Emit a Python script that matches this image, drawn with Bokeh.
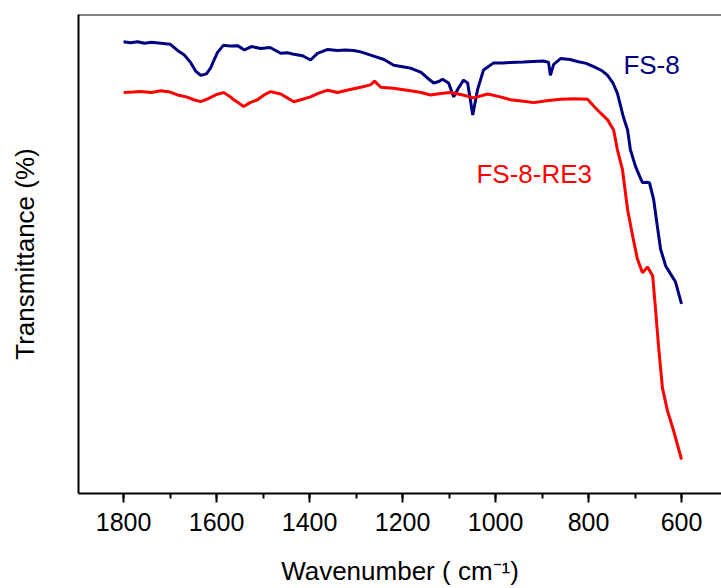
from bokeh.plotting import figure
from bokeh.models import Range1d, SingleIntervalTicker, FixedTicker, Span, Label
from bokeh.embed import file_html
from bokeh.resources import INLINE

# FS-8 spectrum (wavenumber cm^-1, transmittance a.u.)
fs8_wn = [1800, 1785, 1770, 1755, 1740, 1720, 1700, 1684, 1670, 1656, 1645, 1634, 1622, 1613,
          1605, 1598, 1585, 1570, 1555, 1540, 1525, 1505, 1485, 1462, 1448, 1434, 1415, 1398,
          1383, 1361, 1340, 1323, 1305, 1290, 1262, 1240, 1219, 1200, 1183, 1160, 1146, 1133,
          1122, 1114, 1101, 1090, 1080, 1069, 1060, 1049, 1039, 1026, 1004, 985, 968, 940, 920,
          897, 886, 882, 875, 860, 840, 824, 805, 789, 770, 759, 748, 738, 725, 716, 710, 699,
          690, 684, 675, 669, 660, 652, 645, 634, 624, 613, 600]
fs8_t = [94.3, 94.1, 94.3, 94.0, 94.2, 94.0, 93.8, 92.5, 91.6, 90.0, 88.2, 87.3, 87.6, 88.8,
         90.6, 92.1, 93.6, 93.4, 93.5, 92.6, 93.3, 92.9, 93.1, 91.9, 92.0, 91.7, 91.4, 90.5,
         91.9, 92.7, 92.5, 92.6, 92.5, 92.2, 91.3, 90.6, 89.4, 89.1, 88.8, 87.9, 86.7, 85.7,
         86.0, 86.5, 85.7, 82.8, 84.6, 86.3, 85.7, 79.0, 84.2, 88.4, 89.9, 89.9, 90.0, 90.1, 90.2,
         90.3, 90.0, 87.3, 89.6, 90.8, 90.6, 90.2, 89.8, 89.1, 88.2, 87.3, 85.8, 83.6, 78.6, 75.9,
         71.8, 68.3, 66.2, 64.9, 65.0, 64.9, 61.4, 55.8, 51.0, 47.5, 45.9, 44.2, 39.6]

# FS-8-RE3 spectrum
re3_wn = [1800, 1780, 1763, 1740, 1720, 1700, 1684, 1665, 1649, 1634, 1619, 1600, 1585, 1573,
          1563, 1552, 1542, 1528, 1512, 1498, 1484, 1462, 1448, 1434, 1415, 1398, 1380, 1361,
          1340, 1315, 1290, 1269, 1260, 1247, 1220, 1183, 1160, 1140, 1118, 1097, 1070, 1047,
          1017, 990, 968, 940, 918, 890, 860, 830, 802, 789, 775, 759, 746, 738, 727, 716, 705,
          695, 684, 673, 662, 656, 649, 641, 630, 617, 600]
re3_t = [83.7, 83.8, 83.9, 83.7, 84.1, 83.8, 83.2, 82.8, 82.2, 81.8, 82.4, 83.3, 83.7, 83.0,
         82.2, 81.5, 80.8, 81.6, 82.2, 83.2, 83.9, 83.4, 82.6, 81.8, 82.3, 82.8, 83.6, 84.2,
         83.7, 84.3, 84.8, 85.3, 86.1, 84.8, 84.6, 84.1, 83.7, 83.2, 83.5, 83.7, 83.2, 82.6,
         83.4, 82.8, 82.2, 81.9, 81.6, 82.0, 82.3, 82.4, 82.3, 80.9, 79.5, 78.0, 75.9, 71.8,
         67.6, 59.3, 53.7, 49.0, 46.1, 47.3, 45.4, 38.6, 30.3, 22.0, 17.2, 13.1, 7.1]

xticks_interval = 200
labels = ["FS-8", "FS-8-RE3"]
label_wn = [725, 1041]
label_t = [89.4, 66.8]
colors = ["#000080", "#ff0000"]

FONT = "Liberation Sans"

p = figure(width=721, height=588, output_backend="svg", toolbar_location=None,
           x_range=Range1d(1897, 514), y_range=Range1d(0, 100),
           min_border_left=78, min_border_right=0, min_border_top=14, min_border_bottom=92)
p.background_fill_color = "white"
p.border_fill_color = "white"
p.outline_line_color = None
p.grid.visible = False

p.line(fs8_wn, fs8_t, line_color=colors[0], line_width=3)
p.line(re3_wn, re3_t, line_color=colors[1], line_width=3)

# top border of the frame
p.add_layout(Span(location=100, dimension="width", line_color="black", line_width=2))

xa = p.xaxis[0]
xa.ticker = SingleIntervalTicker(interval=xticks_interval, num_minor_ticks=2)
xa.axis_line_width = 2
xa.axis_line_color = "black"
xa.major_tick_line_width = 2
xa.minor_tick_line_width = 2
xa.major_tick_out = 9
xa.major_tick_in = 0
xa.minor_tick_out = 5
xa.minor_tick_in = 0
xa.major_label_text_font = FONT
xa.major_label_text_font_size = "25px"
xa.major_label_text_color = "black"
xa.major_label_standoff = 10
xa.axis_label = "Wavenumber ( cm\u207b\u00b9)"
xa.axis_label_text_font = FONT
xa.axis_label_text_font_size = "26px"
xa.axis_label_text_font_style = "normal"
xa.axis_label_text_color = "black"
xa.axis_label_standoff = 22

ya = p.yaxis[0]
ya.ticker = FixedTicker(ticks=[])
ya.axis_line_width = 2
ya.axis_line_color = "black"
ya.major_tick_line_color = None
ya.minor_tick_line_color = None
ya.major_label_text_font_size = "0px"
ya.axis_label = "Transmittance (%)"
ya.axis_label_text_font = FONT
ya.axis_label_text_font_size = "26px"
ya.axis_label_text_font_style = "normal"
ya.axis_label_text_color = "black"
ya.axis_label_standoff = 39

for t, xw, yt, c in zip(labels, label_wn, label_t, colors):
    p.add_layout(Label(x=xw, y=yt, text=t, text_color=c, text_font=FONT,
                       text_font_size="26px", text_baseline="alphabetic"))

open("out.html", "w").write(file_html(p, INLINE))
